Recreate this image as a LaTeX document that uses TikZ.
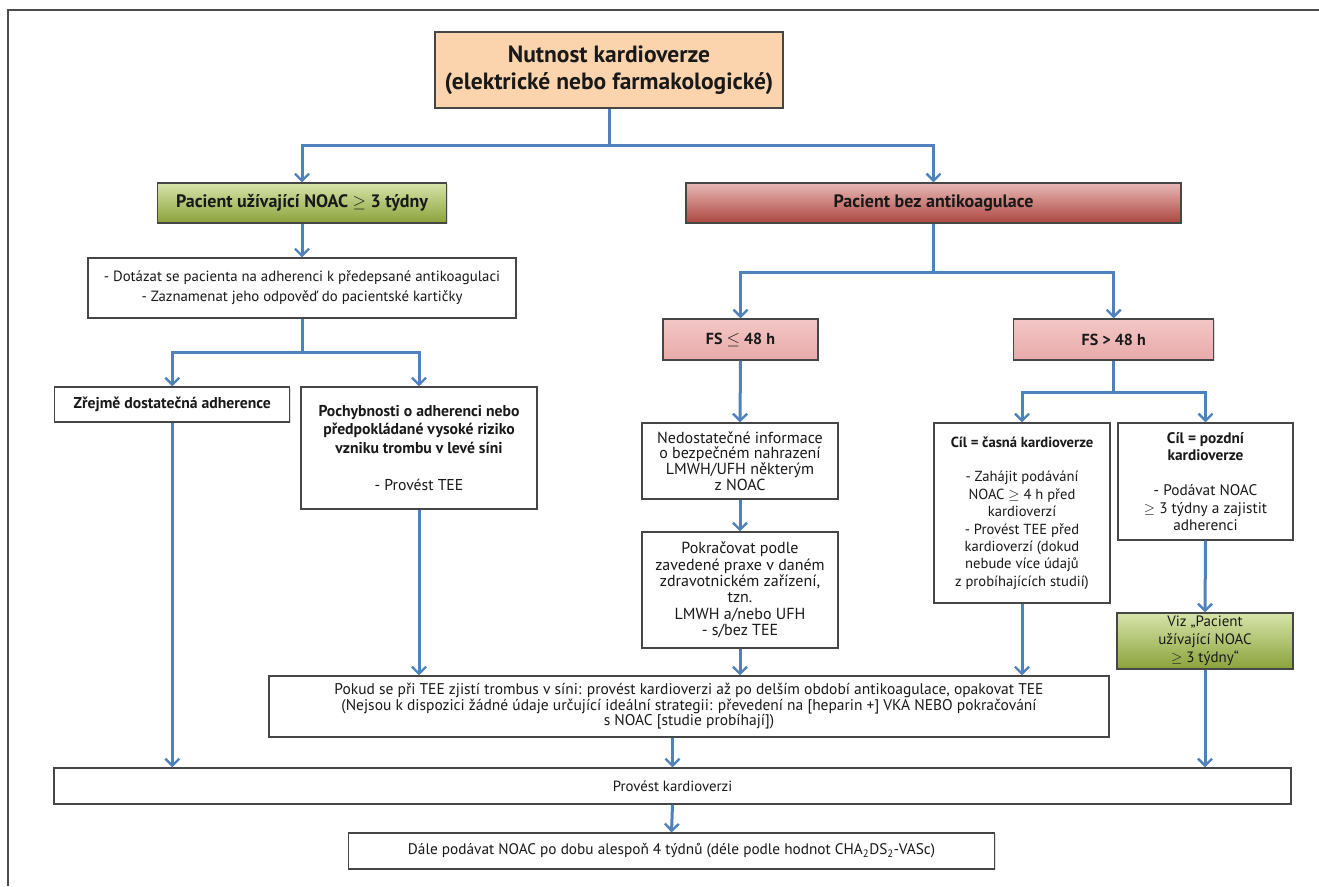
\documentclass[tikz,border=0pt]{standalone}
\usepackage{fontspec}
\setmainfont{PT Sans}
\usetikzlibrary{arrows.meta,shadows}
\definecolor{conn}{RGB}{79,129,189}
\definecolor{boxline}{RGB}{70,70,70}
\definecolor{titlefill}{RGB}{251,212,174}
\definecolor{greentop}{RGB}{215,228,170}
\definecolor{greenbot}{RGB}{138,162,58}
\definecolor{redtop}{RGB}{232,184,182}
\definecolor{redbot}{RGB}{172,70,63}
\definecolor{pinktop}{RGB}{243,199,198}
\definecolor{pinkbot}{RGB}{232,170,170}
\definecolor{txt}{RGB}{25,25,25}
\newcommand{\gesym}{$\geq$}
\newcommand{\lesym}{$\leq$}
\tikzset{
  box/.style={draw=boxline, line width=1.2pt, fill=white, align=center, inner sep=0pt, text=txt,
    font=\fontsize{15.5}{16.3}\selectfont,
    drop shadow={shadow xshift=1.3pt, shadow yshift=-1.3pt, opacity=0.25}},
  greenbox/.style={box, top color=greentop, bottom color=greenbot},
  redbox/.style={box, top color=redtop, bottom color=redbot},
  pinkbox/.style={box, top color=pinktop, bottom color=pinkbot},
  conn/.style={draw=conn, line width=3pt, line join=miter},
  arr/.style={conn, -{Straight Barb[length=7pt,width=14pt,line width=2.4pt]}},
  frame/.style={draw=black!70, line width=1.2pt}
}
\begin{document}
\begin{tikzpicture}[x=1pt,y=-1pt]
\useasboundingbox (0,0) rectangle (1319,886);
\draw[frame] (8,886) -- (8,10) -- (1319,10);

% nodes
\node[box, fill=titlefill, minimum width=348pt, minimum height=76pt,
      font=\fontsize{23.5}{27}\selectfont\bfseries] (title) at (609,70)
      {Nutnost kardioverze\\(elektrické nebo farmakologické)};
\node[greenbox, minimum width=289pt, minimum height=40pt, font=\fontsize{18}{20}\selectfont\bfseries]
      (green) at (302,203) {Pacient užívající NOAC \gesym\ 3 týdny};
\node[redbox, minimum width=495pt, minimum height=40pt, font=\fontsize{18}{20}\selectfont\bfseries]
      (red) at (933.5,203) {Pacient bez antikoagulace};
\node[box, minimum width=428pt, minimum height=60pt, font=\fontsize{14.8}{20}\selectfont]
      (dotaz) at (302,288) {- Dotázat se pacienta na adherenci k předepsané antikoagulaci\\- Zaznamenat jeho odpověď do pacientské kartičky};
\node[box, minimum width=235pt, minimum height=35pt, font=\fontsize{15.7}{18}\selectfont\bfseries]
      (zrejme) at (172.3,404.5) {Zřejmě dostatečná adherence};
\node[box, minimum width=236pt, minimum height=122pt, font=\fontsize{15.7}{18.5}\selectfont]
      (pochyb) at (419,448) {\textbf{Pochybnosti o adherenci nebo}\\\textbf{předpokládané vysoké riziko}\\\textbf{vzniku trombu v levé síni}\\[18.5pt]- Provést TEE};
\node[pinkbox, minimum width=155pt, minimum height=41pt, font=\fontsize{16}{18}\selectfont\bfseries]
      (fs1) at (740.5,339.5) {FS \lesym\ 48 h};
\node[pinkbox, minimum width=200pt, minimum height=41pt, font=\fontsize{16}{18}\selectfont\bfseries]
      (fs2) at (1113.7,339.5) {FS > 48 h};
\node[box, minimum width=196pt, minimum height=76pt, font=\fontsize{16}{15.8}\selectfont]
      (nedost) at (740,461) {Nedostatečné informace\\o bezpečném nahrazení\\LMWH/UFH některým\\z NOAC};
\node[box, minimum width=196pt, minimum height=116pt, font=\fontsize{16}{16.4}\selectfont]
      (pokrac) at (740,590) {Pokračovat podle\\zavedené praxe v daném\\zdravotnickém zařízení,\\tzn.\\LMWH a/nebo UFH\\- s/bez TEE};
\node[box, minimum width=176pt, minimum height=180pt, font=\fontsize{14.6}{17.4}\selectfont]
      (casna) at (1022,513) {\textbf{Cíl = časná kardioverze}\\[17.4pt]- Zahájit podávání\\NOAC \gesym\ 4 h před\\kardioverzí\\- Provést TEE před\\kardioverzí (dokud\\nebude více údajů\\z probíhajících studií)};
\node[box, minimum width=175pt, minimum height=117pt, font=\fontsize{15.3}{17.4}\selectfont]
      (pozdni) at (1205.5,481.5) {\textbf{Cíl = pozdní}\\\textbf{kardioverze}\\[17.4pt]- Podávat NOAC\\\gesym\ 3 týdny a zajistit\\adherenci};
\node[greenbox, minimum width=176pt, minimum height=56pt, font=\fontsize{15}{18}\selectfont]
      (viz) at (1205,641) {Viz „Pacient\\užívající NOAC\\\gesym\ 3 týdny“};
\node[box, minimum width=840pt, minimum height=61pt, font=\fontsize{15.5}{15.5}\selectfont]
      (pokud) at (689,706.5) {Pokud se při TEE zjistí trombus v síni: provést kardioverzi až po delším období antikoagulace, opakovat TEE\\(Nejsou k dispozici žádné údaje určující ideální strategii: převedení na [heparin +] VKA NEBO pokračování\\s NOAC [studie probíhají])};
\node[box, minimum width=1237pt, minimum height=36pt, font=\fontsize{14.8}{16}\selectfont]
      (provest) at (672.5,786) {Provést kardioverzi};
\node[box, minimum width=646pt, minimum height=36pt, font=\fontsize{15.3}{16}\selectfont]
      (dale) at (671.5,851) {Dále podávat NOAC po dobu alespoň 4 týdnů (déle podle hodnot CHA\textsubscript{2}DS\textsubscript{2}-VASc)};

% split coordinates
\coordinate (s1) at (609,145);
\coordinate (s2) at (302,352);
\coordinate (s3) at (933.5,272);
\coordinate (s4) at (1113.7,392);

% connectors
\draw[conn] (title.south) -- (s1);
\draw[arr] (s1) -| (green.north);
\draw[arr] (s1) -| (red.north);
\draw[arr] (green.south) -- (dotaz.north);
\draw[conn] (dotaz.south) -- (s2);
\draw[arr] (s2) -| (zrejme.north);
\draw[arr] (s2) -| (pochyb.north);
\draw[conn] (red.south) -- (s3);
\draw[arr] (s3) -| (fs1.north);
\draw[arr] (s3) -| (fs2.north);
\draw[arr] (fs1.south) -- (nedost.north);
\draw[arr] (nedost.south) -- (pokrac.north);
\draw[arr] (pokrac.south) -- (pokrac.south |- pokud.north);
\draw[conn] (fs2.south) -- (s4);
\draw[arr] (s4) -| (casna.north);
\draw[arr] (s4) -| (pozdni.north);
\draw[arr] (pozdni.south) -- (viz.north);
\draw[arr] (casna.south) -- (casna.south |- pokud.north);
\draw[arr] (pochyb.south) -- (pochyb.south |- pokud.north);
\draw[arr] (zrejme.south) -- (zrejme.south |- provest.north);
\draw[arr] (viz.south) -- (viz.south |- provest.north);
\draw[arr] (provest.north |- pokud.south) -- (provest.north);
\draw[arr] (provest.south) -- (dale.north);
\end{tikzpicture}
\end{document}
